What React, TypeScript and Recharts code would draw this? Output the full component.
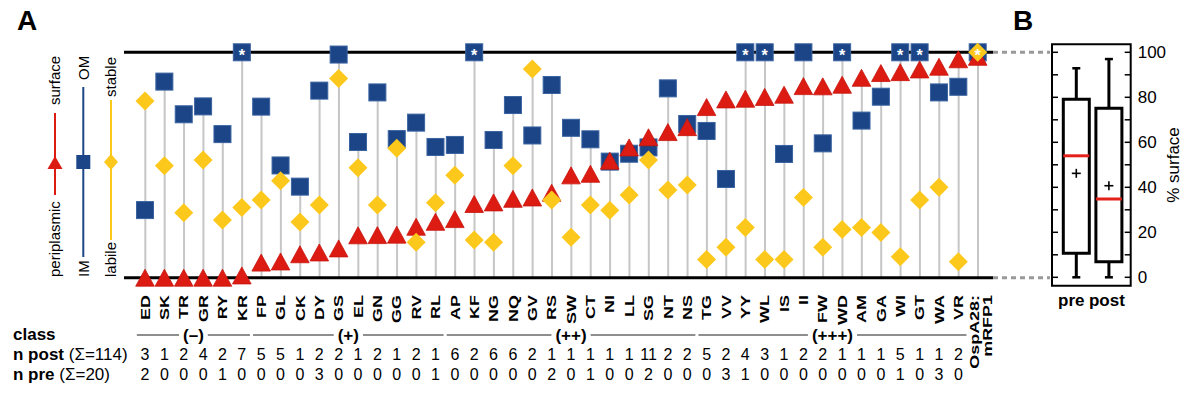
import React from 'react';
import {
  ComposedChart,
  XAxis,
  YAxis,
  Scatter,
  Bar,
  ReferenceLine,
  ReferenceDot,
  ReferenceArea,
} from 'recharts';

// ---------------- data ----------------
const categories = [
  'ED', 'SK', 'TR', 'GR', 'RY', 'KR', 'FP', 'GL', 'CK', 'DY', 'GS', 'EL', 'GN', 'GG', 'RV',
  'RL', 'AP', 'KF', 'NG', 'NQ', 'GV', 'RS', 'SW', 'CT', 'NI', 'LL', 'SG', 'NT', 'NS', 'TG',
  'VV', 'YY', 'WL', 'IS', 'II', 'FW', 'WD', 'AM', 'GA', 'WI', 'GT', 'WA', 'VR', 'OspA28:\nmRFP1',
];
// red triangles: periplasmic -> surface
const surfacePct = [
  0, 0, 0, 0, 0, 1, 6.7, 7.2, 10.4, 11.2, 13, 18.8, 18.9, 19.1, 22.6,
  24.8, 26, 32.7, 33.4, 35, 35.6, 37.7, 45.4, 46.1, 51.9, 57.8, 62.3, 64.6, 66.8, 75.7,
  79.1, 79.4, 80.2, 81.2, 85.0, 84.9, 85.6, 88.7, 90.8, 91.2, 92.4, 93.6, 96.9, 98,
];
// blue squares: IM -> OM
const omPct = [
  30.0, 87.0, 72.5, 76.0, 63.7, 100, 75.9, 49.8, 40.4, 83.0, 99, 60.2, 82.2, 61.5, 68.8,
  58.0, 58.9, 100, 61.1, 76.6, 63.1, 85.5, 66.5, 61.4, 51.5, 55.0, 57.8, 84.0, 68.2, 65.1,
  43.8, 100, 100, 54.9, 100, 59.6, 100, 69.7, 80.3, 100, 100, 82.2, 84.7, 100,
];
// yellow diamonds: labile -> stable
const stablePct = [
  78.4, 49.7, 28.8, 52.2, 25.6, 31.2, 34.5, 43.0, 24.7, 32.2, 88.4, 48.8, 32.2, 57.4, 15.7,
  33.3, 45.5, 16.7, 15.7, 49.7, 92.6, 34.5, 17.9, 32.2, 29.9, 36.7, 52.2, 38.9, 41.1, 8.1,
  13.5, 22.3, 8.1, 8.1, 35.6, 13.5, 21.4, 22.3, 20.1, 9.3, 34.5, 40.1, 7.1, 100,
];
const omStarred = ['KR', 'KF', 'YY', 'WL', 'WD', 'WI', 'GT'];
const stableStarred = ['OspA28:\nmRFP1'];
const nPost = [
  3, 1, 2, 4, 2, 7, 5, 5, 1, 2, 2, 1, 2, 1, 2, 1, 6, 2, 6, 6, 2, 1, 1, 1, 1, 1, 11, 2, 2, 5,
  2, 4, 3, 1, 2, 2, 1, 1, 1, 5, 1, 1, 2, null,
];
const nPre = [
  2, 0, 0, 0, 1, 0, 0, 0, 0, 3, 0, 0, 0, 0, 0, 1, 0, 0, 0, 0, 0, 2, 0, 1, 0, 0, 2, 0, 0, 0,
  3, 1, 0, 0, 0, 0, 0, 0, 0, 1, 0, 3, 0, null,
];
const classLabels = ['(–)', '(+)', '(++)', '(+++)'];
const classFirst = ['ED', 'FP', 'AP', 'TG'];
const classLast = ['KR', 'RL', 'NS', 'VR'];

// panel B box plot (% surface)
const boxGroups = ['pre', 'post'];
const boxMin = [0, 0];
const boxQ1 = [10.7, 6.9];
const boxMedian = [54.0, 34.8];
const boxMean = [46.2, 40.7];
const boxQ3 = [79.1, 75.1];
const boxMax = [92.9, 97.0];
const boxTicks = [0, 20, 40, 60, 80, 100];
const frameTicks = [0, 10, 20, 30, 40, 50, 60, 70, 80, 90, 100];

// ---------------- style / layout ----------------
const FONT = '"Liberation Sans", Arial, Helvetica, sans-serif';
const RED = '#dc1c13';
const NAVY = '#1b4587';
const NAVY_EDGE = '#3a63a0';
const GOLD = '#fcc81c';
const STEM = '#c6c6c6';
const CLASS_LINE = '#8e8e8e';

const W = 1200;
const H = 400;
const A_LEFT = 124;
const A_RIGHT_EDGE = 993;
const A_TOP = 52.3;
const A_BOTTOM = 277.7;
const FIRST_X = 145;
const LAST_X = 977.7;
const STEP = (LAST_X - FIRST_X) / (categories.length - 1);
const X_MIN = -(FIRST_X - A_LEFT) / STEP;
const X_MAX = categories.length - 1 + (A_RIGHT_EDGE - LAST_X) / STEP;
const PX_PER_VAL = (A_BOTTOM - A_TOP) / 100;
const pxToVal = (py: number) => (A_BOTTOM - py) / PX_PER_VAL;
const pxToIdx = (px: number) => (px - FIRST_X) / STEP;
const CONNECTOR_END = pxToIdx(1050);

const LABEL_TOP = 295;
const CLASS_Y = pxToVal(335);
const NPOST_BASE = 360;
const NPRE_BASE = 379.5;

const rows = categories.map((name, i) => ({
  idx: i,
  name,
  surface: surfacePct[i],
  om: omPct[i],
  stable: stablePct[i],
  stem: Math.max(surfacePct[i], omPct[i], stablePct[i]),
  omStar: omStarred.includes(name),
  stableStar: stableStarred.includes(name),
}));

const classGroups = classLabels.map((label, k) => {
  const first = categories.indexOf(classFirst[k]);
  const last = categories.indexOf(classLast[k]);
  const chars = label.split('');
  const wEm = chars.reduce((s, c) => s + (c === '(' || c === ')' ? 0.333 : c === '+' ? 0.584 : 0.556), 0);
  const halfGap = (wEm * 17) / 2 + 4;
  const mid = (first + last) / 2;
  return { label, first, last, mid, gap: halfGap / STEP };
});

const boxRows = boxGroups.map((g, i) => ({
  x: i + 1,
  name: g,
  min: boxMin[i],
  q1: boxQ1[i],
  median: boxMedian[i],
  mean: boxMean[i],
  q3: boxQ3[i],
  max: boxMax[i],
}));

// panel B layout
const B_LEFT_PAGE = 1000;
const B_FRAME_L = 1052;
const B_FRAME_R = 1130.7;
const B_FRAME_T = 44.3;
const B_FRAME_B = 285.7;
const B_PRE_X = 1076.3;
const B_POST_X = 1108.9;
const B_UNIT = B_POST_X - B_PRE_X;
const XB_MIN = 1 - (B_PRE_X - B_FRAME_L) / B_UNIT;
const XB_MAX = 2 + (B_FRAME_R - B_POST_X) / B_UNIT;
const B_Y0 = 277.3;
const B_Y100 = 52.3;
const B_PXV = (B_Y0 - B_Y100) / 100;
const YB_MIN = -(B_FRAME_B - B_Y0) / B_PXV;
const YB_MAX = 100 + (B_Y100 - B_FRAME_T) / B_PXV;
const BOX_HALF = 13 / B_UNIT;
const CAP_HALF = 4 / B_UNIT;
const FTICK = 6 / B_UNIT;
const B_LABEL_DX = [-5, -2];

// ---------------- shapes ----------------
const SquareShape = (p: any) => {
  const { cx, cy, payload } = p;
  if (cx == null || cy == null) return null;
  const h = 8.5;
  return (
    <g>
      <rect x={cx - h} y={cy - h} width={2 * h} height={2 * h} fill={NAVY} stroke={NAVY_EDGE} strokeWidth={1} />
      {payload && payload.omStar ? (
        <text x={cx} y={cy + 9} textAnchor="middle" fill="#fff" fontSize={16} fontWeight="bold" fontFamily={FONT}>
          *
        </text>
      ) : null}
    </g>
  );
};

const TriangleShape = (p: any) => {
  const { cx, cy } = p;
  if (cx == null || cy == null) return null;
  const hw = 9.3;
  const hh = 8.5;
  return (
    <polygon
      points={`${cx},${cy - hh} ${cx + hw},${cy + hh} ${cx - hw},${cy + hh}`}
      fill={RED}
      stroke="#c8140c"
      strokeWidth={0.8}
    />
  );
};

const DiamondShape = (p: any) => {
  const { cx, cy, payload } = p;
  if (cx == null || cy == null) return null;
  const r = 9.5;
  return (
    <g>
      <polygon points={`${cx},${cy - r} ${cx + r},${cy} ${cx},${cy + r} ${cx - r},${cy}`} fill={GOLD} />
      {payload && payload.stableStar ? (
        <text x={cx} y={cy + 9} textAnchor="middle" fill="#fff" fontSize={16} fontWeight="bold" fontFamily={FONT}>
          *
        </text>
      ) : null}
    </g>
  );
};

const PlusShape = (p: any) => {
  const { cx, cy } = p;
  if (cx == null || cy == null) return null;
  const s = 4.5;
  return (
    <g stroke="#000" strokeWidth={1.6}>
      <line x1={cx - s} y1={cy} x2={cx + s} y2={cy} />
      <line x1={cx} y1={cy - s} x2={cx} y2={cy + s} />
    </g>
  );
};

const CategoryTick = (props: any) => {
  const { x, payload } = props;
  const i = payload.value;
  const parts = categories[i].split('\n');
  const offs = parts.length > 1 ? [-3, 10] : [0];
  return (
    <g fontFamily={FONT}>
      {parts.map((t, k) => (
        <text
          key={k}
          transform={`translate(${x + offs[k]},${LABEL_TOP}) rotate(-90) scale(1.38,1)`}
          textAnchor="end"
          dy="0.36em"
          fontSize={13}
          fontWeight="bold"
          fill="#000"
        >
          {t}
        </text>
      ))}
      {nPost[i] != null ? (
        <text x={x} y={NPOST_BASE} textAnchor="middle" fontSize={16} fill="#000">
          {nPost[i]}
        </text>
      ) : null}
      {nPre[i] != null ? (
        <text x={x} y={NPRE_BASE} textAnchor="middle" fontSize={16} fill="#000">
          {nPre[i]}
        </text>
      ) : null}
    </g>
  );
};

const BoxTick = (props: any) => {
  const { x, y, payload } = props;
  const i = payload.value - 1;
  return (
    <text x={x + B_LABEL_DX[i]} y={y} dy="0.71em" textAnchor="middle" fontSize={17} fontWeight="bold" fontFamily={FONT} fill="#000">
      {boxGroups[i]}
    </text>
  );
};

const sumPost = nPost.reduce((s: number, v) => s + (v ?? 0), 0);
const sumPre = nPre.reduce((s: number, v) => s + (v ?? 0), 0);

export default function App() {
  return (
    <div style={{ position: 'absolute', left: 0, top: 0, width: W, height: H, background: '#fff', fontFamily: FONT }}>
      {/* Panel A */}
      <div style={{ position: 'absolute', left: 0, top: 0 }}>
        <ComposedChart
          width={W}
          height={H}
          data={rows}
          margin={{ top: A_TOP, right: W - A_RIGHT_EDGE, bottom: H - A_BOTTOM - 1, left: A_LEFT }}
        >
          <XAxis
            dataKey="idx"
            type="number"
            domain={[X_MIN, X_MAX]}
            ticks={rows.map((r) => r.idx)}
            interval={0}
            height={1}
            axisLine={false}
            tickLine={false}
            tick={<CategoryTick />}
          />
          <YAxis hide domain={[0, 100]} />
          <ReferenceLine y={100} stroke="#000" strokeWidth={3} />
          <ReferenceLine y={0} stroke="#000" strokeWidth={3} />
          <ReferenceLine
            segment={[{ x: X_MAX, y: 100 }, { x: CONNECTOR_END, y: 100 }]}
            stroke="#999"
            strokeWidth={3}
            strokeDasharray="5 4"
            ifOverflow="visible"
          />
          <ReferenceLine
            segment={[{ x: X_MAX, y: 0 }, { x: CONNECTOR_END, y: 0 }]}
            stroke="#999"
            strokeWidth={3}
            strokeDasharray="5 4"
            ifOverflow="visible"
          />
          {classGroups.map((g, k) => (
            <ReferenceLine
              key={'cl' + k}
              segment={[{ x: g.first - 0.42, y: CLASS_Y }, { x: g.mid - g.gap, y: CLASS_Y }]}
              stroke={CLASS_LINE}
              strokeWidth={2}
              ifOverflow="visible"
            />
          ))}
          {classGroups.map((g, k) => (
            <ReferenceLine
              key={'cr' + k}
              segment={[{ x: g.mid + g.gap, y: CLASS_Y }, { x: g.last + 0.42, y: CLASS_Y }]}
              stroke={CLASS_LINE}
              strokeWidth={2}
              ifOverflow="visible"
            />
          ))}
          {classGroups.map((g, k) => (
            <ReferenceDot
              key={'ct' + k}
              x={g.mid}
              y={CLASS_Y}
              r={1}
              ifOverflow="visible"
              shape={(p: any) => (
                <text
                  x={p.cx}
                  y={p.cy}
                  dy="0.35em"
                  textAnchor="middle"
                  fontSize={17}
                  fontWeight="bold"
                  fontFamily={FONT}
                  fill="#000"
                >
                  {g.label}
                </text>
              )}
            />
          ))}
          <Bar dataKey="stem" barSize={2} fill={STEM} isAnimationActive={false} />
          <Scatter dataKey="om" shape={SquareShape} isAnimationActive={false} />
          <Scatter dataKey="surface" shape={TriangleShape} isAnimationActive={false} />
          <Scatter dataKey="stable" shape={DiamondShape} isAnimationActive={false} />
        </ComposedChart>
      </div>

      {/* Panel B */}
      <div style={{ position: 'absolute', left: B_LEFT_PAGE, top: 0 }}>
        <ComposedChart
          width={W - B_LEFT_PAGE}
          height={H}
          data={boxRows}
          margin={{ top: B_FRAME_T, right: W - B_FRAME_R - 40, bottom: H - B_FRAME_B - 25, left: B_FRAME_L - B_LEFT_PAGE }}
        >
          <XAxis
            dataKey="x"
            type="number"
            domain={[XB_MIN, XB_MAX]}
            ticks={boxRows.map((r) => r.x)}
            interval={0}
            height={25}
            axisLine={false}
            tickLine={false}
            tickSize={0}
            tickMargin={8}
            tick={<BoxTick />}
          />
          <YAxis
            orientation="right"
            width={40}
            domain={[YB_MIN, YB_MAX]}
            ticks={boxTicks}
            interval={0}
            axisLine={false}
            tickLine={false}
            tickSize={0}
            tickMargin={7}
            tick={{ fill: '#000', fontSize: 17, fontFamily: FONT }}
          />
          <ReferenceArea x1={XB_MIN} x2={XB_MAX} y1={YB_MIN} y2={YB_MAX} fill="none" stroke="#000" strokeWidth={2} ifOverflow="visible" />
          {frameTicks.map((v) => (
            <ReferenceLine key={'fl' + v} segment={[{ x: XB_MIN, y: v }, { x: XB_MIN + FTICK, y: v }]} stroke="#000" strokeWidth={1.5} ifOverflow="visible" />
          ))}
          {frameTicks.map((v) => (
            <ReferenceLine key={'fr' + v} segment={[{ x: XB_MAX - FTICK, y: v }, { x: XB_MAX, y: v }]} stroke="#000" strokeWidth={1.5} ifOverflow="visible" />
          ))}
          {boxRows.map((b) => (
            <ReferenceLine key={'wu' + b.x} segment={[{ x: b.x, y: b.q3 }, { x: b.x, y: b.max }]} stroke="#000" strokeWidth={3} ifOverflow="visible" />
          ))}
          {boxRows.map((b) => (
            <ReferenceLine key={'wl' + b.x} segment={[{ x: b.x, y: b.min }, { x: b.x, y: b.q1 }]} stroke="#000" strokeWidth={3} ifOverflow="visible" />
          ))}
          {boxRows.map((b) => (
            <ReferenceLine key={'cu' + b.x} segment={[{ x: b.x - CAP_HALF, y: b.max }, { x: b.x + CAP_HALF, y: b.max }]} stroke="#000" strokeWidth={2.5} ifOverflow="visible" />
          ))}
          {boxRows.map((b) => (
            <ReferenceLine key={'cd' + b.x} segment={[{ x: b.x - CAP_HALF, y: b.min }, { x: b.x + CAP_HALF, y: b.min }]} stroke="#000" strokeWidth={2.5} ifOverflow="visible" />
          ))}
          {boxRows.map((b) => (
            <ReferenceArea key={'bx' + b.x} x1={b.x - BOX_HALF} x2={b.x + BOX_HALF} y1={b.q1} y2={b.q3} fill="#fff" fillOpacity={1} stroke="#000" strokeWidth={3} ifOverflow="visible" />
          ))}
          {boxRows.map((b) => (
            <ReferenceLine key={'md' + b.x} segment={[{ x: b.x - BOX_HALF, y: b.median }, { x: b.x + BOX_HALF, y: b.median }]} stroke="#e3211a" strokeWidth={3} ifOverflow="visible" />
          ))}
          <Scatter dataKey="mean" shape={PlusShape} isAnimationActive={false} />
        </ComposedChart>
      </div>

      {/* labels, legend */}
      <svg width={W} height={H} style={{ position: 'absolute', left: 0, top: 0, pointerEvents: 'none' }} fontFamily={FONT}>
        <text x={17} y={30} fontSize={28} fontWeight="bold" fill="#000">A</text>
        <text x={1013} y={30} fontSize={28} fontWeight="bold" fill="#000">B</text>
        <text transform="translate(1173,165) rotate(-90)" textAnchor="middle" dy="0.35em" fontSize={17} fill="#000">% surface</text>

        <text x={13} y={340} fontSize={17} fontWeight="bold" fill="#000">class</text>
        <text x={13} y={NPOST_BASE} fontSize={17} fill="#000">
          <tspan fontWeight="bold">n post </tspan>
          <tspan>{`(Σ=${sumPost})`}</tspan>
        </text>
        <text x={13} y={NPRE_BASE} fontSize={17} fill="#000">
          <tspan fontWeight="bold">n pre </tspan>
          <tspan>{`(Σ=${sumPre})`}</tspan>
        </text>

        {/* legend: surface / periplasmic */}
        <line x1={55} y1={113} x2={55} y2={195} stroke={RED} strokeWidth={2} />
        <polygon points="55,156 62.5,169 47.5,169" fill={RED} />
        <text transform="translate(55,105) rotate(-90)" dy="0.3em" fontSize={15} fill="#000">surface</text>
        <text transform="translate(55,277) rotate(-90)" dy="0.3em" fontSize={15} fill="#000">periplasmic</text>
        {/* OM / IM */}
        <line x1={83.3} y1={87} x2={83.3} y2={257} stroke={NAVY} strokeWidth={2} />
        <rect x={76.3} y={155} width={14} height={14} fill={NAVY} />
        <text transform="translate(83.3,80) rotate(-90)" dy="0.36em" fontSize={15} fill="#000">OM</text>
        <text transform="translate(83.3,277) rotate(-90)" dy="0.36em" fontSize={15} fill="#000">IM</text>
        {/* stable / labile */}
        <line x1={111} y1={100} x2={111} y2={240} stroke={GOLD} strokeWidth={2} />
        <polygon points="111,154 118,162 111,170 104,162" fill={GOLD} />
        <text transform="translate(111,97) rotate(-90)" dy="0.3em" fontSize={15} fill="#000">stable</text>
        <text transform="translate(111,277) rotate(-90)" dy="0.3em" fontSize={15} fill="#000">labile</text>
      </svg>
    </div>
  );
}
